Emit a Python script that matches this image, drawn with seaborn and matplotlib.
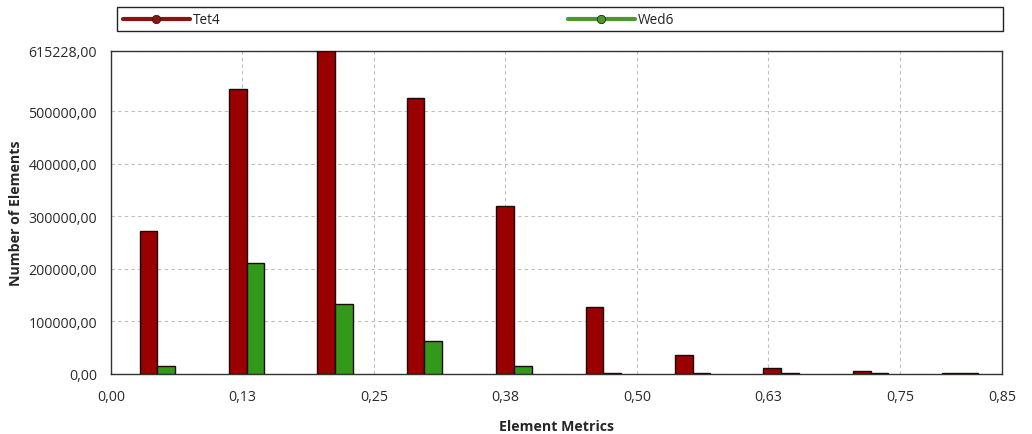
import numpy as np
import pandas as pd
import matplotlib
matplotlib.use("Agg")
import matplotlib.pyplot as plt
from matplotlib.lines import Line2D
from matplotlib.patches import Rectangle
import seaborn as sns

# Element quality histogram: bin centres and element counts per element type
bin_centers = [0.044, 0.129, 0.213, 0.298, 0.383, 0.468, 0.553, 0.637, 0.722, 0.807]
tet4_counts = [273000, 543000, 615228, 526000, 320000, 127000, 37000, 10500, 5500, 2500]
wed6_counts = [15000, 211000, 134000, 62500, 15200, 2500, 2000, 2000, 2000, 1800]
series_names = ["Tet4", "Wed6"]
series_colors = ["#9a0000", "#33991a"]
legend_colors = ["#8e1212", "#4a9a2a"]

x_tick_values = [0.0, 0.125, 0.25, 0.375, 0.5, 0.625, 0.75, 0.847]
x_tick_labels = ["0,00", "0,13", "0,25", "0,38", "0,50", "0,63", "0,75", "0,85"]
y_tick_values = [0, 100000, 200000, 300000, 400000, 500000, 615228]
y_tick_labels = ["0,00", "100000,00", "200000,00", "300000,00", "400000,00",
                 "500000,00", "615228,00"]

df = pd.DataFrame({
    "metric": bin_centers * 2,
    "count": tet4_counts + wed6_counts,
    "type": [series_names[0]] * len(bin_centers) + [series_names[1]] * len(bin_centers),
})

sns.set_style("white")
plt.rcParams["font.family"] = ["Open Sans", "DejaVu Sans"]

W, H = 1032, 435
fig = plt.figure(figsize=(W / 100, H / 100), dpi=100)
ax = fig.add_axes([111 / W, 1 - 375 / H, (1002 - 111) / W, (375 - 52) / H])

sns.barplot(data=df, x="metric", y="count", hue="type", hue_order=series_names,
            palette=series_colors, saturation=1, native_scale=True, width=0.4,
            edgecolor="#1a0a0a", linewidth=1.0, legend=False, ax=ax, zorder=3)

ax.set_xlim(x_tick_values[0], x_tick_values[-1])
ax.set_ylim(0, y_tick_values[-1])
ax.set_xticks(x_tick_values)
ax.set_xticklabels(x_tick_labels)
ax.set_yticks(y_tick_values)
ax.set_yticklabels(y_tick_labels)

ax.tick_params(axis="y", which="major", direction="out", length=6.8, width=0.8,
               color="#777777", labelsize=10.2, labelcolor="#2a2a2a", pad=3.2)
ax.tick_params(axis="x", which="major", direction="out", length=3.8, width=0.8,
               color="#777777", labelsize=10.2, labelcolor="#2a2a2a", pad=7)
ax.grid(True, which="major", axis="both", color="#bdbdbd", linestyle=(0, (3, 3)),
        linewidth=0.8, zorder=0)
ax.set_axisbelow(True)
for side in ["left", "bottom", "top", "right"]:
    ax.spines[side].set_visible(True)
    ax.spines[side].set_color("#333333")
    ax.spines[side].set_linewidth(1.0)

ax.set_ylabel("Number of Elements", fontsize=10.2, fontweight="bold")
ax.yaxis.set_label_coords((23 - 111) / 891, 0.5)
ax.set_xlabel("Element Metrics", fontsize=10.2, fontweight="bold", labelpad=11)

# Legend strip above the plot: boxed frame with two evenly spaced entries
fig.patches.append(Rectangle((117 / W, 1 - 32 / H), (1003 - 117) / W, 24 / H,
                             transform=fig.transFigure, fill=False,
                             edgecolor="#222222", linewidth=1.0))
for name, color, x0 in zip(series_names, legend_colors, [123, 568]):
    y = 1 - 20 / H
    fig.add_artist(Line2D([x0 / W, (x0 + 67) / W], [y, y], transform=fig.transFigure,
                          color=color, lw=3))
    fig.add_artist(Line2D([(x0 + 33) / W], [y], transform=fig.transFigure,
                          color=color, marker="o", markersize=6,
                          markerfacecolor=color, markeredgecolor="#222222",
                          markeredgewidth=0.6, lw=0))
    fig.text((x0 + 70) / W, y, name, fontsize=9.8, color="#222222",
             ha="left", va="center")

fig.savefig("out.png", dpi=100)
